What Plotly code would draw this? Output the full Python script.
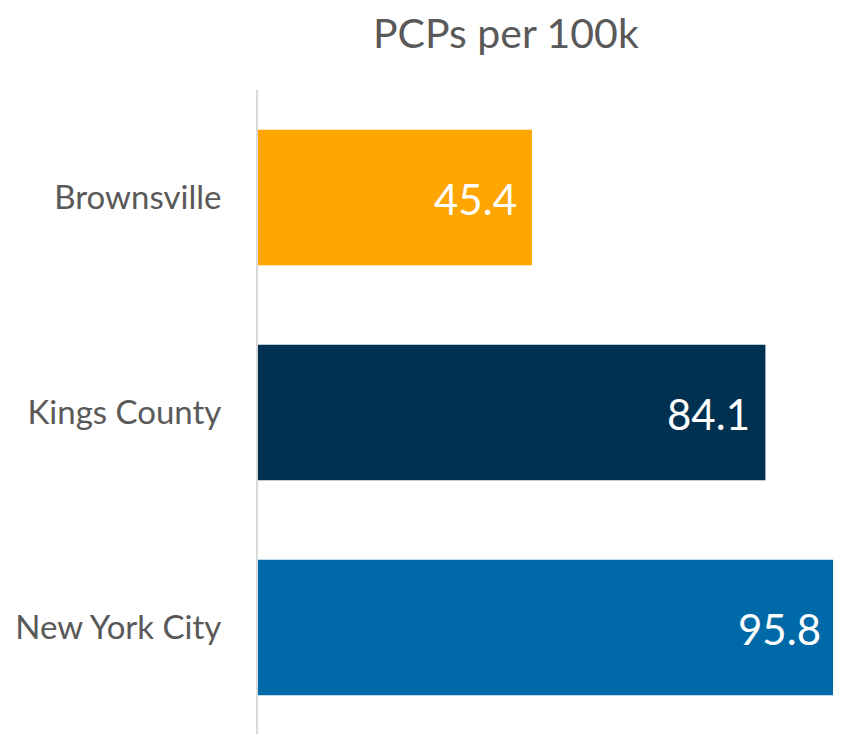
import plotly.graph_objects as go

# Datos
areas = ["Brownsville", "Kings County", "New York City"]
pcps_por_100k = [45.4, 84.1, 95.8]
colores = ["#FFA500", "#003151", "#006AA8"]

fig = go.Figure()

fig.add_trace(go.Bar(
    x=pcps_por_100k,
    y=areas,
    orientation="h",
    marker=dict(color=colores, line=dict(width=0)),
    width=0.63,
    hoverinfo="skip",
))

# Etiquetas de valor dentro de la barra, al final
for area, valor in zip(areas, pcps_por_100k):
    fig.add_annotation(
        x=valor, y=area, text=f"{valor:.1f}",
        xanchor="right", yanchor="middle", xshift=-13, yshift=-1,
        showarrow=False,
        font=dict(family="Lato", size=42, color="white"),
    )

fig.update_layout(
    width=841, height=734,
    margin=dict(l=245, r=13, t=82, b=7),
    paper_bgcolor="white", plot_bgcolor="white",
    title=dict(text="PCPs per 100k", x=0.592, xanchor="center", y=0.965, yanchor="middle",
               font=dict(family="Lato", size=41, color="#595959")),
    showlegend=False,
    bargap=0.37,
)
fig.update_xaxes(range=[0, 95.8], visible=False, fixedrange=True)
fig.update_yaxes(
    autorange="reversed",
    showline=True, linecolor="#D9D9D9", linewidth=2,
    showgrid=False, zeroline=False, ticks="",
    ticklabelstandoff=28,
    tickfont=dict(family="Lato", size=33, color="#595959"),
)

fig.write_html("out.html")
